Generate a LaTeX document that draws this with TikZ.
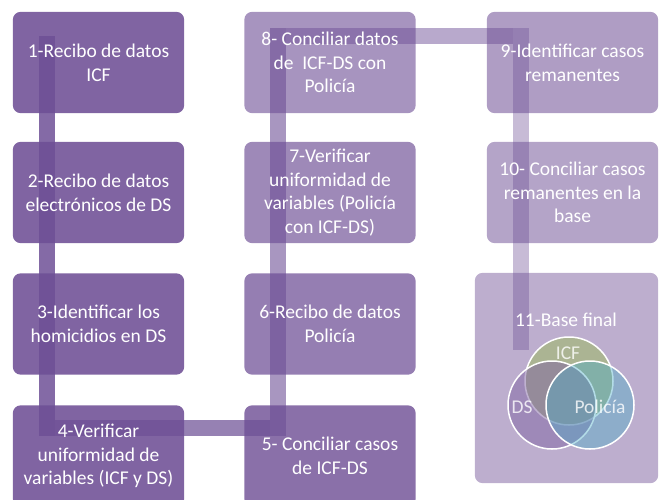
\documentclass[tikz,border=0pt]{standalone}
\usepackage{fontspec}
\setmainfont{Carlito}
\pgfdeclarelayer{back}
\pgfdeclarelayer{bar}
\pgfsetlayers{back,bar,main}
\definecolor{boxcol}{HTML}{8064A2}
\definecolor{barcol}{HTML}{6E5096}
\definecolor{icfcol}{HTML}{9BBB59}
\definecolor{dscol}{HTML}{8064A2}
\definecolor{polcol}{HTML}{4BACC6}
\tikzset{
  stepbox/.style={minimum width=171pt, minimum height=101pt, inner sep=0pt, align=center, text=white, font=\fontsize{19.5}{23.7}\selectfont},
  barline/.style={draw=barcol, line width=16pt},
  vennring/.style={draw=white, line width=1.5pt, fill opacity=.5},
  vennlbl/.style={text=white, text opacity=.8, inner sep=0pt, font=\fontsize{19.5}{23.7}\selectfont}
}
\begin{document}
\begin{tikzpicture}[x=1pt, y=-1pt]
\useasboundingbox (0,0) rectangle (660,499);
% boxes
\node[stepbox] (b1) at (98.5,62.5) {1-Recibo de datos\\ICF};
\node[stepbox] (b2) at (98.5,192.5) {2-Recibo de datos\\electrónicos de DS};
\node[stepbox] (b3) at (98.5,324) {3-Identificar los\\homicidios en DS};
\node[stepbox] (b4) at (98.5,456) {4-Verificar\\uniformidad de\\variables (ICF y DS)};
\node[stepbox] (b5) at (330,456) {5- Conciliar casos\\de ICF-DS};
\node[stepbox] (b6) at (330,324) {6-Recibo de datos\\Policía};
\node[stepbox] (b7) at (330,192.5) {7-Verificar\\uniformidad de\\variables (Policía\\con ICF-DS)};
\node[stepbox] (b8) at (330,62.5) {8- Conciliar datos\\de~ ICF-DS con\\Policía};
\node[stepbox] (b9) at (572.5,62.5) {9-Identificar casos\\remanentes};
\node[stepbox] (b10) at (572.5,192.5) {10- Conciliar casos\\remanentes en la\\base};
\node[stepbox, minimum width=183pt, minimum height=210pt] (b11) at (566.5,378) {};
\begin{pgfonlayer}{back}
\foreach \n/\op in {1/1,2/1,3/1,4/1,5/.92,6/.83,7/.76,8/.69,9/.63,10/.59,11/.52}
  \fill[boxcol, fill opacity=\op, rounded corners=8pt] (b\n.south west) rectangle (b\n.north east);
\end{pgfonlayer}
% bar
\coordinate (k1) at (47,36);
\coordinate (k2) at (47,435.5);
\coordinate (k3) at (55,427.5);
\coordinate (k4) at (270,427.5);
\coordinate (k5) at (278,435.5);
\coordinate (k6) at (278,28);
\coordinate (k7) at (286,36);
\coordinate (k8) at (513,36);
\coordinate (k9) at (521,28);
\coordinate (k10) at (521,350);
\begin{pgfonlayer}{bar}
\draw[barline, draw opacity=.85] (k1) -- (k2);
\draw[barline, draw opacity=.72] (k3) -- (k4);
\draw[barline, draw opacity=.6] (k5) -- (k6);
\draw[barline, draw opacity=.49] (k7) -- (k8);
\draw[barline, draw opacity=.39] (k9) -- (k10);
\end{pgfonlayer}
% venn
\node[stepbox, minimum width=0pt, minimum height=0pt] (t11) at (566,320) {11-Base final};
\draw[vennring, fill=icfcol] (569,381) circle (44pt);
\draw[vennring, fill=dscol] (552,405) circle (44pt);
\draw[vennring, fill=polcol, fill opacity=.42] (590,405) circle (44pt);
\node[vennlbl] (icf) at (568,353) {ICF};
\node[vennlbl] (ds) at (522,407) {DS};
\node[vennlbl] (pol) at (600,407) {Policía};
\end{tikzpicture}
\end{document}
